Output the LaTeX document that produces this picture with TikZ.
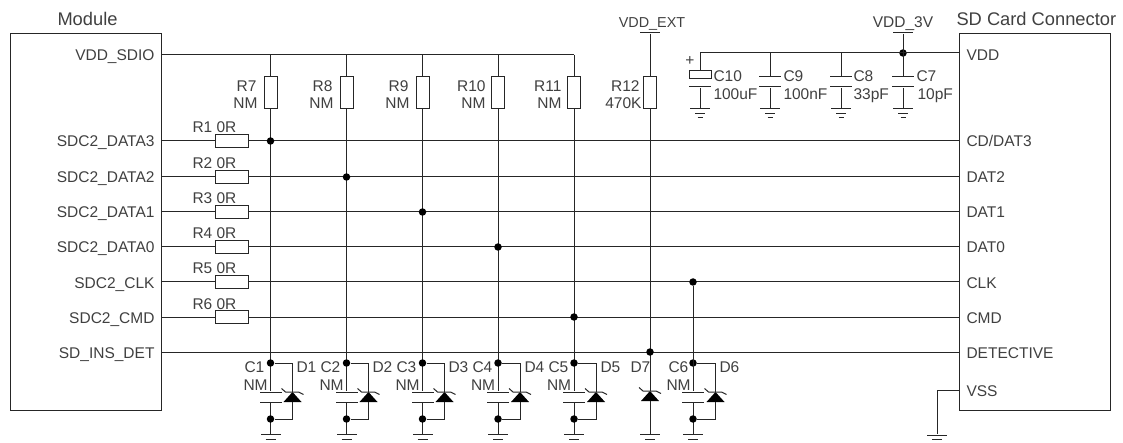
\documentclass[tikz,border=0pt]{standalone}
\usepackage{fontspec}
\setmainfont{Liberation Sans}
\usetikzlibrary{positioning}

\definecolor{linecol}{gray}{0.15}
\definecolor{textcol}{gray}{0.25}

\tikzset{
	box/.style={rectangle, draw, inner sep=0, minimum width=151, minimum height=376},
	resv/.style={rectangle, draw, inner sep=0, minimum width=13, minimum height=32},
	resh/.style={rectangle, draw, inner sep=0, minimum width=33, minimum height=13.5},
	plate/.style={rectangle, fill=linecol, inner sep=0, minimum width=22, minimum height=1},
	junction/.style={circle, fill=black, inner sep=0, minimum size=7.5},
	lblw/.style={anchor=base west, inner sep=0, text=textcol, font=\fontsize{15.5}{18}\selectfont},
	lble/.style={anchor=base east, inner sep=0, text=textcol, font=\fontsize{15.5}{18}\selectfont},
	title/.style={anchor=base west, inner sep=0, text=textcol, font=\fontsize{18.3}{22}\selectfont},
}

% three bars, the first one is the node
\newcommand{\gnd}[3]{
	\draw (#2,#3) node [plate, minimum width=20] (#1) {};
	\draw (#2-5,#3+4.5) -- (#2+5,#3+4.5);
	\draw (#2-2.5,#3+9) -- (#2+2.5,#3+9);
}
% zener, apex at (#2,#3): #1a on top, #1b below
\newcommand{\zener}[3]{
	\fill [black] (#2,#3) -- (#2+9,#3+10) -- (#2-9,#3+10) -- cycle;
	\draw (#2-11,#3-3.5) -- (#2-7,#3) -- (#2+6,#3) -- (#2+11,#3+2.5);
	\coordinate (#1a) at (#2,#3);
	\coordinate (#1b) at (#2,#3+10);
}

\begin{document}
\begin{tikzpicture}[x=1pt, y=-1pt, color=linecol, line width=1pt]
		\useasboundingbox (0,0) rectangle (1123,443);

		\draw (85.5,222) node [box] (module) {};
		\draw (1035,222) node [box] (conn) {};
		\draw (57,26) node [title] (moduletitle) {Module};
		\draw (956,26) node [title] (conntitle) {SD Card Connector};

		% pins on the module
		\coordinate (sdiol) at (161,55);
		\coordinate (data3l) at (161,141);
		\coordinate (data2l) at (161,177);
		\coordinate (data1l) at (161,212);
		\coordinate (data0l) at (161,247);
		\coordinate (clkl) at (161,282);
		\coordinate (cmdl) at (161,317);
		\coordinate (detl) at (161,352);
		\draw (155,61) node [lble] (sdiotext) {VDD\_SDIO};
		\draw (155,147) node [lble] (data3text) {SDC2\_DATA3};
		\draw (155,183) node [lble] (data2text) {SDC2\_DATA2};
		\draw (155,218) node [lble] (data1text) {SDC2\_DATA1};
		\draw (155,253) node [lble] (data0text) {SDC2\_DATA0};
		\draw (155,288) node [lble] (clktext) {SDC2\_CLK};
		\draw (155,323) node [lble] (cmdtext) {SDC2\_CMD};
		\draw (155,358) node [lble] (dettext) {SD\_INS\_DET};

		% pins on the connector
		\coordinate (vddr) at (959.5,53);
		\coordinate (data3r) at (959.5,141);
		\coordinate (data2r) at (959.5,177);
		\coordinate (data1r) at (959.5,212);
		\coordinate (data0r) at (959.5,247);
		\coordinate (clkr) at (959.5,282);
		\coordinate (cmdr) at (959.5,317);
		\coordinate (detr) at (959.5,352);
		\coordinate (vssr) at (959.5,390);
		\draw (966,61) node [lblw] (vddtext) {VDD};
		\draw (966,147) node [lblw] (cdtext) {CD/DAT3};
		\draw (966,183) node [lblw] (dat2text) {DAT2};
		\draw (966,218) node [lblw] (dat1text) {DAT1};
		\draw (966,253) node [lblw] (dat0text) {DAT0};
		\draw (966,288) node [lblw] (clkrtext) {CLK};
		\draw (966,323) node [lblw] (cmdrtext) {CMD};
		\draw (966,358) node [lblw] (detrtext) {DETECTIVE};
		\draw (966,396) node [lblw] (vsstext) {VSS};

		% series resistors
		\draw (231.5,141) node [resh] (r1) {};
		\draw (231.5,177) node [resh] (r2) {};
		\draw (231.5,212) node [resh] (r3) {};
		\draw (231.5,247) node [resh] (r4) {};
		\draw (231.5,282) node [resh] (r5) {};
		\draw (231.5,317) node [resh] (r6) {};
		\draw (192,133) node [lblw] (r1text) {R1 0R};
		\draw (192,169) node [lblw] (r2text) {R2 0R};
		\draw (192,204) node [lblw] (r3text) {R3 0R};
		\draw (192,239) node [lblw] (r4text) {R4 0R};
		\draw (192,274) node [lblw] (r5text) {R5 0R};
		\draw (192,309) node [lblw] (r6text) {R6 0R};

		% pull-ups
		\coordinate (s7) at (270.5,55);
		\coordinate (s8) at (346.5,55);
		\coordinate (s9) at (422.5,55);
		\coordinate (s10) at (498,55);
		\coordinate (s11) at (574,55);
		\draw (270.5,93) node [resv] (r7) {};
		\draw (346.5,93) node [resv] (r8) {};
		\draw (422.5,93) node [resv] (r9) {};
		\draw (498,93) node [resv] (r10) {};
		\draw (574,93) node [resv] (r11) {};
		\draw (650,93) node [resv] (r12) {};
		\draw (257,92) node [lble] (r7text) {R7};
		\draw (258,109) node [lble] (r7val) {NM};
		\draw (333,92) node [lble] (r8text) {R8};
		\draw (334,109) node [lble] (r8val) {NM};
		\draw (409,92) node [lble] (r9text) {R9};
		\draw (410,109) node [lble] (r9val) {NM};
		\draw (486,92) node [lble] (r10text) {R10};
		\draw (486,109) node [lble] (r10val) {NM};
		\draw (562,92) node [lble] (r11text) {R11};
		\draw (562,109) node [lble] (r11val) {NM};
		\draw (640,92) node [lble] (r12text) {R12};
		\draw (642,109) node [lble] (r12val) {470K};

		% supply bars
		\draw (650,33) node [plate, minimum width=20] (extbar) {};
		\draw (903,33) node [plate, minimum width=20] (vbar) {};
		\draw (652,28) node [lblw, anchor=base, font=\fontsize{14.4}{18}\selectfont] (exttext) {VDD\_EXT};
		\draw (903,28) node [lblw, anchor=base] (vtext) {VDD\_3V};

		% decoupling
		\coordinate (c10top) at (700,53);
		\coordinate (c9top) at (770,53);
		\coordinate (c8top) at (841,53);
		\draw (903,53) node [junction] (vj) {};
		\draw (700,75) node [rectangle, draw, inner sep=0, minimum width=22, minimum height=8] (c10a) {};
		\draw (700,87) node [plate] (c10b) {};
		\draw (770,77) node [plate] (c9a) {};
		\draw (770,87) node [plate] (c9b) {};
		\draw (841,77) node [plate] (c8a) {};
		\draw (841,87) node [plate] (c8b) {};
		\draw (903,77) node [plate] (c7a) {};
		\draw (903,87) node [plate] (c7b) {};
		\gnd{g10}{700}{109}
		\gnd{g9}{770}{109}
		\gnd{g8}{841}{109}
		\gnd{g7}{903}{109}
		\draw (690,61) node [lblw, anchor=center] (plus) {+};
		\draw (713,82) node [lblw] (c10text) {C10};
		\draw (713,100) node [lblw] (c10val) {100uF};
		\draw (783,82) node [lblw] (c9text) {C9};
		\draw (783,100) node [lblw] (c9val) {100nF};
		\draw (853,82) node [lblw] (c8text) {C8};
		\draw (853,100) node [lblw] (c8val) {33pF};
		\draw (916,82) node [lblw] (c7text) {C7};
		\draw (917,100) node [lblw] (c7val) {10pF};

		% capacitors and diodes at the bottom
		\draw (270.5,392) node [plate] (c1a) {};
		\draw (270.5,402) node [plate] (c1b) {};
		\draw (346.5,392) node [plate] (c2a) {};
		\draw (346.5,402) node [plate] (c2b) {};
		\draw (422.5,392) node [plate] (c3a) {};
		\draw (422.5,402) node [plate] (c3b) {};
		\draw (498,392) node [plate] (c4a) {};
		\draw (498,402) node [plate] (c4b) {};
		\draw (574,392) node [plate] (c5a) {};
		\draw (574,402) node [plate] (c5b) {};
		\draw (693,392) node [plate] (c6a) {};
		\draw (693,402) node [plate] (c6b) {};
		\zener{d1}{292.5}{392}
		\zener{d2}{368.5}{392}
		\zener{d3}{444.5}{392}
		\zener{d4}{520}{392}
		\zener{d5}{596}{392}
		\zener{d7}{650}{391}
		\zener{d6}{715.5}{392}
		\gnd{g1}{270.5}{434.5}
		\gnd{g2}{346.5}{434.5}
		\gnd{g3}{422.5}{434.5}
		\gnd{g4}{498}{434.5}
		\gnd{g5}{574}{434.5}
		\gnd{g17}{650}{434.5}
		\gnd{g6}{693}{434.5}
		\gnd{gvss}{937}{435}
		\coordinate (vsscorner) at (937,390);
		\draw (244,372) node [lblw] (c1text) {C1};
		\draw (243,390) node [lblw] (c1val) {NM};
		\draw (296,372) node [lblw] (d1text) {D1};
		\draw (320,372) node [lblw] (c2text) {C2};
		\draw (319,390) node [lblw] (c2val) {NM};
		\draw (372,372) node [lblw] (d2text) {D2};
		\draw (396,372) node [lblw] (c3text) {C3};
		\draw (395,390) node [lblw] (c3val) {NM};
		\draw (448,372) node [lblw] (d3text) {D3};
		\draw (472,372) node [lblw] (c4text) {C4};
		\draw (470.5,390) node [lblw] (c4val) {NM};
		\draw (524,372) node [lblw] (d4text) {D4};
		\draw (548,372) node [lblw] (c5text) {C5};
		\draw (546.5,390) node [lblw] (c5val) {NM};
		\draw (600,372) node [lblw] (d5text) {D5};
		\draw (630,372) node [lblw] (d7text) {D7};
		\draw (668,372) node [lblw] (c6text) {C6};
		\draw (666,390) node [lblw] (c6val) {NM};
		\draw (719,372) node [lblw] (d6text) {D6};

		\draw
			(sdiol) edge (s11)
			(vddr) edge (c10top)
			(c10top) edge (c10a)
			(c10b) edge (g10)
			(c9top) edge (c9a)
			(c9b) edge (g9)
			(c8top) edge (c8a)
			(c8b) edge (g8)
			(vbar) edge (c7a)
			(c7b) edge (g7)
			(extbar) edge (r12)
			(r12) edge (d7a)
			(d7b) edge (g17)
			(data3l) edge (r1)
			(r1) edge (data3r)
			(data2l) edge (r2)
			(r2) edge (data2r)
			(data1l) edge (r3)
			(r3) edge (data1r)
			(data0l) edge (r4)
			(r4) edge (data0r)
			(clkl) edge (r5)
			(r5) edge (clkr)
			(cmdl) edge (r6)
			(r6) edge (cmdr)
			(detl) edge (detr)
			(s7) edge (r7)
			(s8) edge (r8)
			(s9) edge (r9)
			(s10) edge (r10)
			(s11) edge (r11)
			(r7) edge (c1a)
			(r8) edge (c2a)
			(r9) edge (c3a)
			(r10) edge (c4a)
			(r11) edge (c5a)
			(c1b) edge (g1)
			(c2b) edge (g2)
			(c3b) edge (g3)
			(c4b) edge (g4)
			(c5b) edge (g5)
			(c6b) edge (g6)
		;

		% junctions go on top of the wires
		\draw (270.5,141) node [junction] (j1) {};
		\draw (346.5,177) node [junction] (j2) {};
		\draw (422.5,212) node [junction] (j3) {};
		\draw (498,247) node [junction] (j4) {};
		\draw (693,282) node [junction] (j6) {};
		\draw (574,317) node [junction] (j5) {};
		\draw (650,352) node [junction] (j7) {};
		\draw (270.5,363) node [junction] (t1) {};
		\draw (346.5,363) node [junction] (t2) {};
		\draw (422.5,363) node [junction] (t3) {};
		\draw (498,363) node [junction] (t4) {};
		\draw (574,363) node [junction] (t5) {};
		\draw (693,363) node [junction] (t6) {};
		\draw (270.5,419) node [junction] (b1) {};
		\draw (346.5,419) node [junction] (b2) {};
		\draw (422.5,419) node [junction] (b3) {};
		\draw (498,419) node [junction] (b4) {};
		\draw (574,419) node [junction] (b5) {};
		\draw (693,419) node [junction] (b6) {};

		\draw (t1) -| (d1a) (d1b) |- (b1);
		\draw (t2) -| (d2a) (d2b) |- (b2);
		\draw (t3) -| (d3a) (d3b) |- (b3);
		\draw (t4) -| (d4a) (d4b) |- (b4);
		\draw (t5) -| (d5a) (d5b) |- (b5);
		\draw (t6) -| (d6a) (d6b) |- (b6);
		\draw (j6) -- (c6a);
		\draw (vssr) -- (vsscorner) -- (gvss);
\end{tikzpicture}
\end{document}
